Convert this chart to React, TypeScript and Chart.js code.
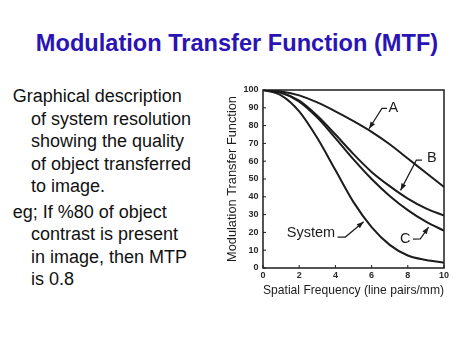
import React, { useEffect, useRef } from 'react';
import { Chart, registerables } from 'chart.js';

Chart.register(...registerables);

// ---- data ----
const freq = [0, 1, 2, 3, 4, 5, 6, 7, 8, 9, 10];
const mtfA = [100, 99.2, 97, 93, 88, 82.5, 76.5, 69.5, 61.5, 53.5, 45.5];
const mtfB = [100, 98.5, 94, 85.5, 75, 64, 54, 46, 39, 33.5, 29.5];
const mtfC = [100, 98.5, 93.5, 84.5, 73, 61, 50, 40.5, 32.5, 26, 21];
const mtfSystem = [100, 97, 88, 73, 55, 37, 23, 13, 7, 4.5, 3];

const xTicks = [0, 2, 4, 6, 8, 10];
const yTicks = [0, 10, 20, 30, 40, 50, 60, 70, 80, 90, 100];

// curve labels with leader arrows (data units)
const labelText = ['A', 'B', 'C', 'System'];
const labelX = [7.2, 9.33, 7.86, 2.65];
const labelY = [89.9, 61.6, 16.5, 19.4];
const leaderStartX = [6.85, 8.78, 8.29, 4.12];
const leaderStartY = [89.7, 60.6, 16.2, 17.4];
const leaderElbowX = [6.57, 8.47, 8.69, 4.55];
const leaderElbowY = [89.7, 60.6, 16.4, 17.4];
const leaderTipX = [5.86, 7.6, 9.15, 5.56];
const leaderTipY = [78.2, 43.6, 23.0, 26.0];

const titleText = 'Modulation Transfer Function (MTF)';
const para1 = ['Graphical description', 'of system resolution', 'showing the quality', 'of object transferred', 'to image.'];
const para2 = ['eg; If %80 of object', 'contrast is present', 'in image, then MTP', 'is 0.8'];

const FONT = '"Liberation Sans", Arial, Helvetica, sans-serif';
const INK = '#1c1c1c';

const framePlugin = {
  id: 'frame',
  afterDatasetsDraw(chart: any) {
    const { ctx, chartArea: a, scales } = chart;
    ctx.save();
    ctx.strokeStyle = INK;
    ctx.lineWidth = 1.5;
    ctx.strokeRect(a.left, a.top, a.right - a.left, a.bottom - a.top);
    ctx.lineWidth = 1;
    ctx.beginPath();
    xTicks.forEach((v) => {
      const px = scales.x.getPixelForValue(v);
      ctx.moveTo(px, a.bottom);
      ctx.lineTo(px, a.bottom - 3);
    });
    yTicks.forEach((v) => {
      const py = scales.y.getPixelForValue(v);
      ctx.moveTo(a.left, py);
      ctx.lineTo(a.left + 3, py);
    });
    ctx.stroke();

    // labels and leaders
    ctx.font = '14.5px ' + FONT;
    ctx.fillStyle = INK;
    ctx.textAlign = 'center';
    ctx.textBaseline = 'middle';
    labelText.forEach((t, i) => {
      const lx = scales.x.getPixelForValue(labelX[i]);
      const ly = scales.y.getPixelForValue(labelY[i]);
      ctx.fillText(t, lx, ly);
      const sx = scales.x.getPixelForValue(leaderStartX[i]);
      const sy = scales.y.getPixelForValue(leaderStartY[i]);
      const ex = scales.x.getPixelForValue(leaderElbowX[i]);
      const ey = scales.y.getPixelForValue(leaderElbowY[i]);
      const tx = scales.x.getPixelForValue(leaderTipX[i]);
      const ty = scales.y.getPixelForValue(leaderTipY[i]);
      ctx.lineWidth = 1.2;
      ctx.strokeStyle = INK;
      ctx.beginPath();
      ctx.moveTo(sx, sy);
      ctx.lineTo(ex, ey);
      ctx.lineTo(tx, ty);
      ctx.stroke();
      const ang = Math.atan2(ty - ey, tx - ex);
      const len = 7;
      const w = 2.6;
      const bx = tx - len * Math.cos(ang);
      const by = ty - len * Math.sin(ang);
      ctx.beginPath();
      ctx.moveTo(tx, ty);
      ctx.lineTo(bx + w * Math.sin(ang), by - w * Math.cos(ang));
      ctx.lineTo(bx - w * Math.sin(ang), by + w * Math.cos(ang));
      ctx.closePath();
      ctx.fill();
    });
    ctx.restore();
  },
};

function MtfChart() {
  const ref = useRef<HTMLCanvasElement | null>(null);
  useEffect(() => {
    if (!ref.current) return;
    const mk = (vals: number[]) => ({
      data: freq.map((f, i) => ({ x: f, y: vals[i] })),
      borderColor: INK,
      borderWidth: 2,
      pointRadius: 0,
      fill: false,
      cubicInterpolationMode: 'monotone' as const,
    });
    const chart = new Chart(ref.current, {
      type: 'line',
      data: {
        datasets: [
          { label: 'A', ...mk(mtfA) },
          { label: 'B', ...mk(mtfB) },
          { label: 'C', ...mk(mtfC) },
          { label: 'System', ...mk(mtfSystem) },
        ],
      },
      options: {
        animation: false,
        responsive: true,
        maintainAspectRatio: false,
        layout: { padding: { top: 12, right: 30, bottom: 0, left: 0 } },
        plugins: { legend: { display: false }, tooltip: { enabled: false } },
        scales: {
          x: {
            type: 'linear',
            min: 0,
            max: 10,
            afterFit: (s: any) => { s.height = 37; },
            afterBuildTicks: (s: any) => { s.ticks = xTicks.map((v) => ({ value: v })); },
            grid: { display: false, drawTicks: false },
            border: { display: false },
            ticks: { color: '#2a2a2a', font: { family: FONT, size: 9, weight: 'bold' }, padding: 2.5, maxRotation: 0, minRotation: 0, autoSkip: false },
            title: {
              display: true,
              text: 'Spatial Frequency (line pairs/mm)',
              color: INK,
              font: { family: FONT, size: 12.8 },
              padding: { top: 0, bottom: 6.8 },
            },
          },
          y: {
            type: 'linear',
            min: 0,
            max: 100,
            afterFit: (s: any) => { s.width = 43; },
            afterBuildTicks: (s: any) => { s.ticks = yTicks.map((v) => ({ value: v })); },
            grid: { display: false, drawTicks: false },
            border: { display: false },
            ticks: { color: '#2a2a2a', font: { family: FONT, size: 9, weight: 'bold' }, padding: 4.5, autoSkip: false },
            title: {
              display: true,
              text: 'Modulation Transfer Function',
              color: INK,
              font: { family: FONT, size: 12.8 },
              padding: { top: 5, bottom: 0 },
            },
          },
        },
      },
      plugins: [framePlugin],
    });
    return () => chart.destroy();
  }, []);
  return (
    <div style={{ position: 'absolute', left: 220, top: 78, width: 254, height: 227 }}>
      <canvas ref={ref} />
    </div>
  );
}

export default function App() {
  const lineStyle = (top: number, left: number): React.CSSProperties => ({
    position: 'absolute',
    top,
    left,
    fontFamily: FONT,
    fontSize: 18,
    lineHeight: '22.4px',
    whiteSpace: 'nowrap',
    color: '#111',
  });
  return (
    <div style={{ position: 'absolute', left: 0, top: 0, width: 474, height: 355, background: '#fff', overflow: 'hidden' }}>
      <div
        style={{
          position: 'absolute',
          top: 32,
          left: 0,
          width: 474,
          textAlign: 'center',
          fontFamily: FONT,
          fontWeight: 'bold',
          fontSize: 23.6,
          lineHeight: '23.6px',
          color: '#2a14b4',
          whiteSpace: 'nowrap',
        }}
      >
        {titleText}
      </div>
      {para1.map((t, i) => (
        <div key={'p1' + i} style={lineStyle(85.3 + i * 22.4, i === 0 ? 12.7 : 31)}>{t}</div>
      ))}
      {para2.map((t, i) => (
        <div key={'p2' + i} style={lineStyle(200.9 + i * 22.4, i === 0 ? 12.7 : 31)}>{t}</div>
      ))}
      <MtfChart />
    </div>
  );
}
